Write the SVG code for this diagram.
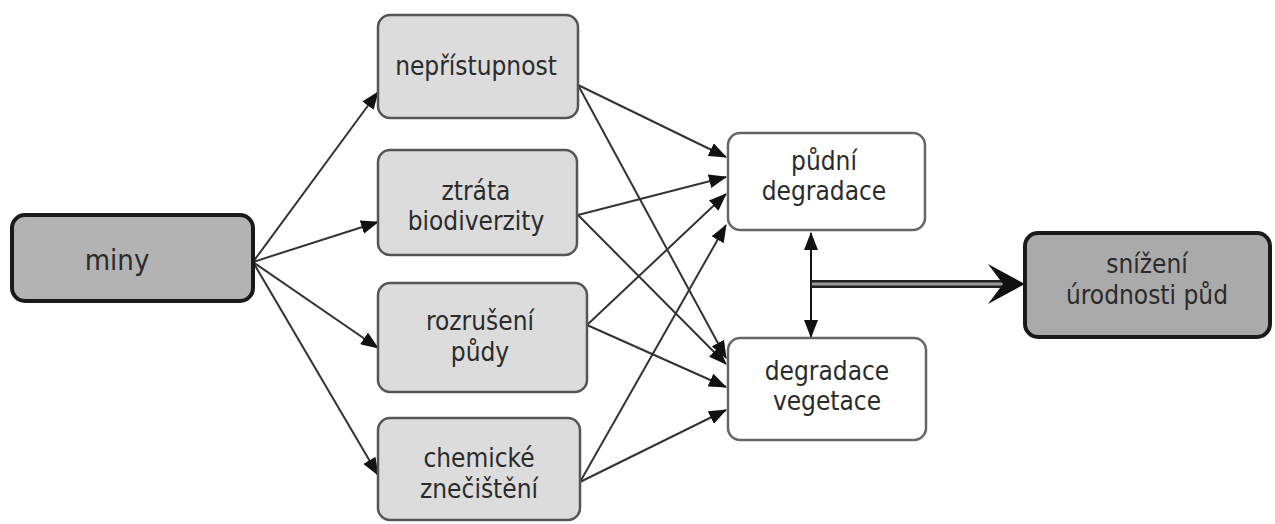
<svg xmlns="http://www.w3.org/2000/svg" width="1275" height="524" viewBox="0 0 1275 524">
<defs>
<marker id="ah" viewBox="0 0 18 14" refX="17" refY="7" markerWidth="18" markerHeight="14" markerUnits="userSpaceOnUse" orient="auto">
<path d="M0,0 L18,7 L0,14 Z" fill="#111"/>
</marker>
<marker id="ahs" viewBox="0 0 18 14" refX="17" refY="7" markerWidth="18" markerHeight="14" markerUnits="userSpaceOnUse" orient="auto-start-reverse">
<path d="M0,0 L18,7 L0,14 Z" fill="#111"/>
</marker>
<style>
.t{font-family:"DejaVu Sans Condensed","DejaVu Sans",sans-serif;font-size:26px;fill:#2b2b2b;text-anchor:middle}
.big{font-size:29px}
.dark{fill:#b3b3b3;stroke:#1a1a1a;stroke-width:4}
.mid{fill:#dcdcdc;stroke:#555;stroke-width:2.5}
.light{fill:#fff;stroke:#666;stroke-width:2.5}
.c{stroke:#333;stroke-width:2;fill:none;marker-end:url(#ah)}
</style>
</defs>
<rect width="1275" height="524" fill="#fff"/>
<g id="connectors">
<line class="c" x1="253" y1="262" x2="378" y2="92"/>
<line class="c" x1="253" y1="262" x2="378" y2="222"/>
<line class="c" x1="253" y1="262" x2="378" y2="348"/>
<line class="c" x1="253" y1="262" x2="378" y2="475"/>
<line class="c" x1="578" y1="85" x2="726" y2="157"/>
<line class="c" x1="578" y1="85" x2="726" y2="358"/>
<line class="c" x1="578" y1="215" x2="726" y2="177"/>
<line class="c" x1="578" y1="215" x2="726" y2="364"/>
<line class="c" x1="587" y1="325" x2="726" y2="194"/>
<line class="c" x1="587" y1="325" x2="726" y2="387"/>
<line class="c" x1="580" y1="482" x2="726" y2="225"/>
<line class="c" x1="580" y1="482" x2="726" y2="410"/>
<line x1="811" y1="233" x2="811" y2="337" stroke="#111" stroke-width="2" marker-start="url(#ahs)" marker-end="url(#ah)"/>
<line x1="811" y1="284" x2="1005" y2="284" stroke="#222" stroke-width="8"/>
<line x1="812" y1="284" x2="1005" y2="284" stroke="#999" stroke-width="3"/>
<path d="M1025,284 L988,264 L1003,284 L988,304 Z" fill="#111"/>
</g>
<g id="miny"><rect class="dark" x="12" y="215" width="241" height="86" rx="13"/><text class="t big" x="117" y="270">miny</text></g>
<g id="nepristupnost"><rect class="mid" x="378" y="15" width="200" height="103" rx="12"/><text class="t" x="476" y="75">nepřístupnost</text></g>
<g id="ztrata"><rect class="mid" x="378" y="150" width="199" height="105" rx="12"/><text class="t" x="476" y="200">ztráta</text><text class="t" x="476" y="230">biodiverzity</text></g>
<g id="rozruseni"><rect class="mid" x="378" y="283" width="209" height="109" rx="12"/><text class="t" x="480" y="330">rozrušení</text><text class="t" x="480" y="361">půdy</text></g>
<g id="chemicke"><rect class="mid" x="378" y="418" width="202" height="102" rx="12"/><text class="t" x="479" y="467">chemické</text><text class="t" x="479" y="498">znečištění</text></g>
<g id="pudni"><rect class="light" x="728" y="133" width="197" height="97" rx="12"/><text class="t" x="824" y="170">půdní</text><text class="t" x="824" y="200">degradace</text></g>
<g id="vegetace"><rect class="light" x="728" y="338" width="198" height="102" rx="12"/><text class="t" x="827" y="380">degradace</text><text class="t" x="827" y="410">vegetace</text></g>
<g id="snizeni"><rect class="dark" x="1025" y="233" width="245" height="104" rx="13" style="fill:#aaa"/><text class="t" x="1147" y="273">snížení</text><text class="t" x="1147" y="304">úrodnosti půd</text></g>
</svg>
